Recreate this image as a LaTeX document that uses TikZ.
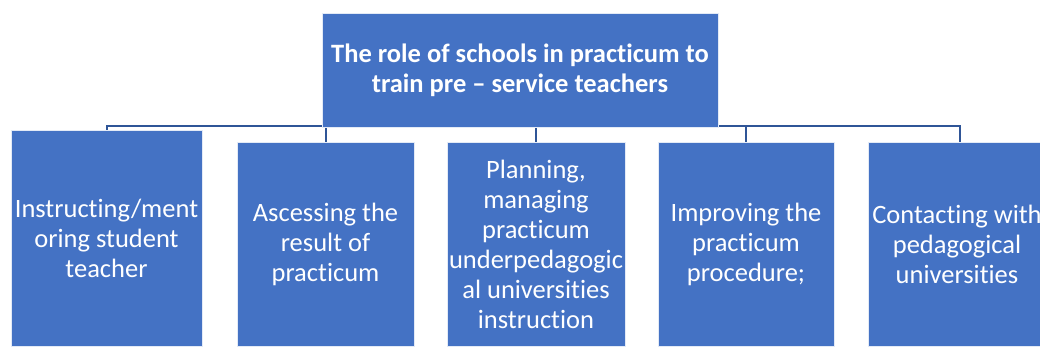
\documentclass[tikz,border=0pt]{standalone}
\usepackage{fontspec}
\setmainfont{Carlito}[Ligatures={TeX,NoCommon}]
\definecolor{boxblue}{HTML}{4472C4}
\definecolor{linkblue}{HTML}{2F5597}
\tikzset{
    rolebox/.style={rectangle, fill=boxblue, draw=white!85!boxblue, line width=0.8pt,
        inner sep=0pt, align=center, text=white,
        font=\fontsize{26.5}{30}\selectfont},
    topbox/.style={rolebox, minimum width=396pt, minimum height=114pt,
        font=\fontsize{26.5}{30}\selectfont\bfseries},
    link/.style={draw=linkblue, line width=2pt}
}
\begin{document}
\begin{tikzpicture}[x=1pt,y=-1pt]
                \useasboundingbox (0,0) rectangle (1040,347);
                \coordinate (bus) at (0,126);
                \node[rolebox, minimum width=191pt, minimum height=216pt] (instruct) at (106.5,238)
                    {Instructing/ment\\oring student\\teacher};
                \node[rolebox, minimum width=177pt, minimum height=204pt] (assess) at (325.5,244)
                    {Ascessing the\\result of\\practicum};
                \node[rolebox, minimum width=178pt, minimum height=204pt] (plan) at (536,244)
                    {Planning,\\managing\\practicum\\underpedagogic\\al universities\\instruction};
                \node[rolebox, minimum width=176pt, minimum height=204pt] (improve) at (746,244)
                    {Improving the\\practicum\\procedure;};
                \node[rolebox, minimum width=178pt, minimum height=204pt] (contact) at (957,244)
                    {Contacting with\\pedagogical\\universities};
                \draw[link] (instruct.north) -- (instruct.north |- bus)
                    -- ([xshift=3pt]contact.north |- bus) -- ([xshift=3pt]contact.north);
                \draw[link] (assess.north) -- (assess.north |- bus);
                \draw[link] (plan.north) -- (plan.north |- bus);
                \draw[link] (improve.north) -- (improve.north |- bus);
                \node[topbox] (root) at (520,70)
                    {The role of schools in practicum to\\train pre \textendash{} service teachers};
\end{tikzpicture}
\end{document}
